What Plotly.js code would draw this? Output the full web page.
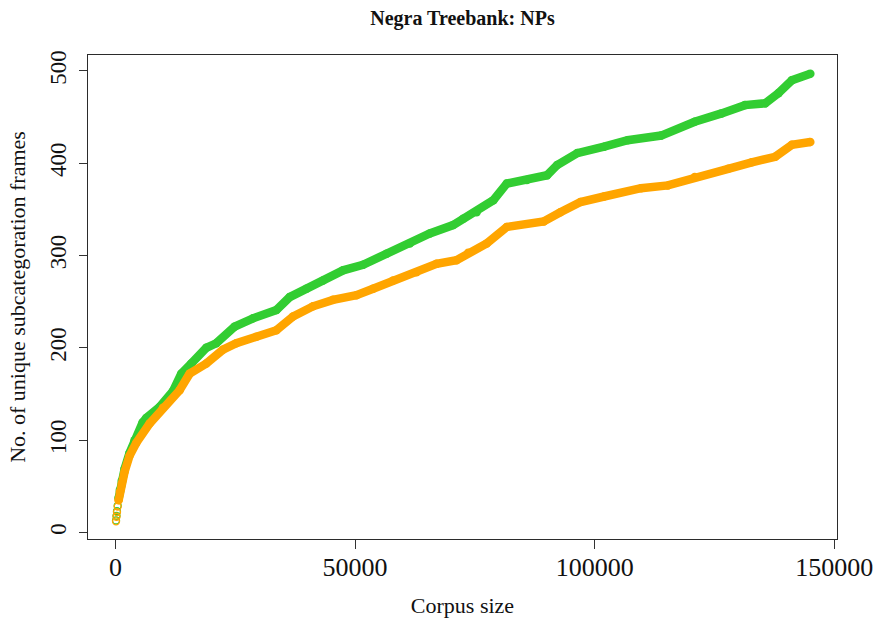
<!DOCTYPE html>
<html>
<head>
<meta charset="utf-8">
<script src="https://cdn.plot.ly/plotly-3.0.1.min.js"></script>
<style>
  html, body { margin: 0; padding: 0; background: #ffffff; }
  #chart { width: 877px; height: 618px; }
</style>
</head>
<body>
<div id="chart"></div>
<script>
// Growth of unique NP subcategorisation frames with corpus size (Negra Treebank)
const greenCorpus = [100, 200, 300, 450, 650, 900, 1300, 1900, 2920, 3970, 5640, 6410, 9190, 11970,
  13720, 15810, 18940, 21030, 24860, 28690, 33570, 36350, 39840, 43310, 47490, 51660, 56550, 61420,
  65590, 70460, 72550, 75370, 78860, 81660, 85860, 90060, 92170, 96370, 101970, 106880, 113880,
  120880, 126480, 131370, 135590, 138380, 141180, 145020];
const greenFrames = [13, 18, 23, 29, 37, 46, 56, 69, 86, 100, 119, 124, 136, 153,
  172, 183, 200, 205, 223, 232, 241, 255, 264, 273, 284, 290, 302, 313,
  324, 333, 340, 347, 360, 378, 382, 387, 398, 411, 418, 425, 430,
  445, 454, 463, 465, 476, 490, 497];

const orangeCorpus = [100, 200, 300, 450, 650, 900, 1300, 1900, 2920, 4320, 7100, 9890, 13370, 15460,
  18940, 22420, 25210, 29390, 33570, 37040, 41220, 45400, 50280, 53750, 57930, 62810, 66990, 71170,
  73600, 77460, 81660, 89370, 92850, 97050, 101970, 109680, 115280, 120880, 127880, 132790, 137680,
  141180, 145020];
const orangeFrames = [12, 17, 22, 28, 35, 44, 53, 66, 83, 97, 118, 135, 154, 172,
  183, 198, 205, 212, 219, 234, 245, 252, 257, 264, 273, 282, 291, 295,
  303, 313, 331, 337, 347, 358, 364, 373, 376, 385, 394, 401, 407,
  420, 423];

const xTicks = [0, 50000, 100000, 150000];
const yTicks = [0, 100, 200, 300, 400, 500];

const GREEN = '#32cd32';
const ORANGE = '#ffa500';
const SOLID_FROM = 4;   // the earliest points stay visible as separate open circles
const BAND = 8.5;       // thickness of the dense run of points

function series(xs, ys, color) {
  return [
    { x: xs.slice(0, SOLID_FROM + 1), y: ys.slice(0, SOLID_FROM + 1), type: 'scatter', mode: 'markers',
      marker: { symbol: 'circle-open', size: 7, color: color, line: { width: 1.3, color: color } } },
    { x: xs.slice(SOLID_FROM), y: ys.slice(SOLID_FROM), type: 'scatter', mode: 'lines+markers',
      line: { color: color, width: BAND },
      marker: { symbol: 'circle', size: BAND, color: color, line: { width: 0 } } }
  ];
}

const data = [].concat(series(greenCorpus, greenFrames, GREEN), series(orangeCorpus, orangeFrames, ORANGE));

const serif = '"Liberation Serif", "DejaVu Serif", serif';

const layout = {
  width: 877, height: 618,
  margin: { l: 88, r: 40, t: 55, b: 79 },
  paper_bgcolor: '#ffffff', plot_bgcolor: '#ffffff',
  showlegend: false,
  font: { family: serif, color: '#111111' },
  title: { text: 'Negra Treebank: NPs', font: { family: serif, size: 20, weight: 'bold', color: '#111111' },
           x: 0.5, xref: 'paper', y: 1 - 18 / 618, yref: 'container', yanchor: 'middle' },
  xaxis: {
    range: [-5748, 150585], tickvals: xTicks, ticktext: xTicks.map(String),
    ticks: 'outside', ticklen: 9, tickwidth: 1, tickcolor: '#333333',
    showline: true, mirror: true, linecolor: '#2b2b2b', linewidth: 1,
    showgrid: false, zeroline: false, ticklabelstandoff: -4,
    tickfont: { family: serif, size: 26, color: '#111111' },
    title: { text: 'Corpus size', font: { family: serif, size: 22, color: '#111111' }, standoff: 20 }
  },
  yaxis: {
    range: [-7.1, 517.3], tickvals: yTicks, ticktext: yTicks.map(String),
    ticks: 'outside', ticklen: 8, tickwidth: 1, tickcolor: '#333333', tickangle: -90,
    showline: true, mirror: true, linecolor: '#2b2b2b', linewidth: 1,
    showgrid: false, zeroline: false, ticklabelstandoff: 4,
    tickfont: { family: serif, size: 23, color: '#111111' },
    title: { text: 'No. of unique subcategoration frames', font: { family: serif, size: 22, color: '#111111' }, standoff: 14 }
  }
};

Plotly.newPlot('chart', data, layout, { staticPlot: true, displayModeBar: false });
</script>
</body>
</html>
